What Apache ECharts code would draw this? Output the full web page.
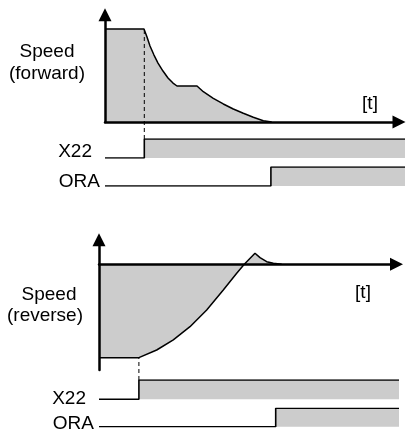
<!DOCTYPE html>
<html><head><meta charset="utf-8">
<script src="https://cdn.jsdelivr.net/npm/echarts@6/dist/echarts.min.js"></script>
<style>html,body{margin:0;padding:0;background:#fff}#c{width:406px;height:433px}</style>
</head><body><div id="c"></div>
<script>
// ---- data ----
const fwdTime  = [0,13,14,15,16.33,17.67,19.33,21,22.67,24,30.67,32.77,36.1,39.43,42.77,46.1,49.43,52.77,55.57];
const fwdSpeed = [100,100,91.4,81.7,72,63.4,54.8,47.3,41.9,38.7,38.7,32.6,25.5,19.4,14,9.35,5.05,1.4,0];
const revTime  = [0,13.3,19.23,24.77,30.33,35.9,41.43,45.9,48.43,52,53.67,55.9,58.1,60.9];
const revSpeed = [-100,-100,-91.8,-80.9,-66.8,-48.9,-27.5,-9.6,0,11.8,7.1,2.8,1.1,0];
const fwdX22Time = [0,13.1,13.1,100];
const fwdORATime = [0,55.3,55.3,100];
const revX22Time = [0,13.3,13.3,100];
const revORATime = [0,58.9,58.9,100];
const stepLevel  = [0,0,1,1];
const fwdMarkTime = 13.1;
const revMarkTime = 13.3;
const labelsTop = ['Speed','(forward)','X22','ORA','[t]'];
const labelsBot = ['Speed','(reverse)','X22','ORA','[t]'];

const zip = (a,b) => a.map((v,i)=>[v,b[i]]);
const FONT = '19px "Liberation Sans", Arial, sans-serif';
const GRAY = '#cccccc';

const hiddenX = (gi,max) => ({gridIndex:gi,type:'value',min:0,max:max,show:false});
const hiddenY = (gi,min,max) => ({gridIndex:gi,type:'value',min:min,max:max,show:false});
const arrowAxis = (gi,min,max) => ({
  gridIndex:gi,type:'value',min:min,max:max,z:5,
  axisLine:{show:true,onZero:true,symbol:['none','triangle'],symbolSize:[13,13],lineStyle:{color:'#000',width:2.5}},
  axisTick:{show:false},axisLabel:{show:false},splitLine:{show:false}
});

const grids = [
  {left:105,top:14.8,width:294,height:107.2},   // 0 top speed
  {left:105,top:29,width:300,height:110},       // 1 top dashed
  {left:105,top:139,width:300,height:19},       // 2 top X22
  {left:105,top:167,width:300,height:19},       // 3 top ORA
  {left:99,top:239.8,width:297.5,height:130.2}, // 4 bottom speed
  {left:99,top:357.7,width:300,height:22.3},    // 5 bottom dashed
  {left:99,top:380,width:300,height:19.3},      // 6 bottom X22
  {left:99,top:408.3,width:300,height:18.4}     // 7 bottom ORA
].map(g=>Object.assign({outerBoundsMode:'none',containLabel:false},g));

const xAxes = [arrowAxis(0,0,98),hiddenX(1,100),hiddenX(2,100),hiddenX(3,100),
               arrowAxis(4,0,99.17),hiddenX(5,100),hiddenX(6,100),hiddenX(7,100)];
const yAxes = [arrowAxis(0,0,115.3),hiddenY(1,0,1),hiddenY(2,0,1),hiddenY(3,0,1),
               arrowAxis(4,-113.2,26.2),hiddenY(5,0,1),hiddenY(6,0,1),hiddenY(7,0,1)];

const curve = (gi,data) => ({type:'line',xAxisIndex:gi,yAxisIndex:gi,data:data,symbol:'none',silent:true,
  lineStyle:{color:'#000',width:1.5},areaStyle:{color:GRAY,opacity:1}});
const sig = (gi,times) => ({type:'line',xAxisIndex:gi,yAxisIndex:gi,data:zip(times,stepLevel),symbol:'none',silent:true,
  lineStyle:{color:'#000',width:1.6},areaStyle:{color:GRAY,opacity:1}});
const dash = (gi,t) => ({type:'line',xAxisIndex:gi,yAxisIndex:gi,data:[[t,0],[t,1]],symbol:'none',silent:true,
  lineStyle:{color:'#000',width:1,type:[4,3]}});

const txt = (s,x,y,align) => ({type:'text',x:x,y:y,silent:true,
  style:{text:s,font:FONT,fill:'#000',align:align||'center',verticalAlign:'middle'}});

const chart = echarts.init(document.getElementById('c'),null,{renderer:'canvas'});
chart.setOption({
  animation:false,
  backgroundColor:'#fff',
  grid:grids,xAxis:xAxes,yAxis:yAxes,
  series:[
    curve(0,zip(fwdTime,fwdSpeed)),
    dash(1,fwdMarkTime),
    sig(2,fwdX22Time),
    sig(3,fwdORATime),
    curve(4,zip(revTime,revSpeed)),
    dash(5,revMarkTime),
    sig(6,revX22Time),
    sig(7,revORATime)
  ],
  graphic:[
    txt(labelsTop[0],47,52),txt(labelsTop[1],47,74),
    txt(labelsTop[2],92,152,'right'),txt(labelsTop[3],100,182,'right'),
    txt(labelsTop[4],370,104),
    txt(labelsBot[0],49,295),txt(labelsBot[1],45,316),
    txt(labelsBot[2],86,399,'right'),txt(labelsBot[3],94,424,'right'),
    txt(labelsBot[4],363,293)
  ]
});
</script></body></html>
